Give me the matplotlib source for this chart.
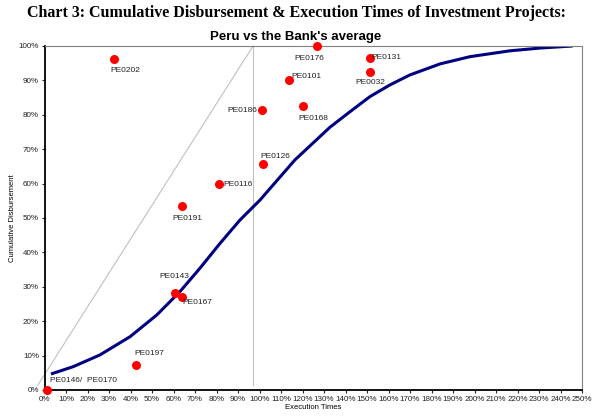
import numpy as np
import matplotlib
matplotlib.use('Agg')
import matplotlib.pyplot as plt
from matplotlib.ticker import FuncFormatter, MultipleLocator

# 项目数据 (执行时间 %, 累计支付 %)
projects = ['PE0202', 'PE0176', 'PE0131', 'PE0032', 'PE0101', 'PE0186', 'PE0168',
            'PE0126', 'PE0116', 'PE0191', 'PE0143', 'PE0167', 'PE0197', 'PE0146/  PE0170']
exec_time = [32.5, 126.6, 151.4, 151.4, 113.9, 101.2, 120.1,
             101.5, 81.0, 64.0, 60.6, 64.1, 42.6, 1.0]
disbursed = [96.1, 100.0, 96.6, 92.5, 90.1, 81.4, 82.6,
             65.7, 59.8, 53.4, 28.2, 27.0, 7.4, 0.0]

# 银行平均曲线
avg_x = [3.0, 13.4, 25.8, 39.8, 52.2, 63.0, 72.3, 81.6, 90.9, 100.2,
         116.5, 132.8, 142.1, 151.4, 160.7, 170.0, 184.0, 197.9, 216.5, 230.5, 245.7]
avg_y = [4.65, 6.8, 10.2, 15.5, 21.8, 28.6, 35.4, 42.6, 49.4, 55.2,
         66.9, 76.4, 80.9, 85.3, 88.7, 91.6, 94.8, 96.9, 98.6, 99.4, 100.0]

# 参考线
diag_x = [-3.0, 97.0]
diag_y = [1.5, 100.0]
vert_x = [97.0, 97.0]
vert_y = [1.5, 100.0]

# 标签偏移 (像素, 相对于点)
label_off = {
    'PE0202': (11, -11), 'PE0176': (-7, -12), 'PE0131': (16, 0), 'PE0032': (0, -11),
    'PE0101': (17, 4), 'PE0186': (-20, -1), 'PE0168': (11, -13), 'PE0126': (13, 7),
    'PE0116': (19, 0), 'PE0191': (5, -12), 'PE0143': (0, 16), 'PE0167': (15, -5),
    'PE0197': (13, 11), 'PE0146/  PE0170': (37, 9),
}

plt.rcParams['font.family'] = ['Liberation Sans', 'DejaVu Sans']

fig = plt.figure(figsize=(5.92, 4.17), dpi=100)
ax = fig.add_axes([44.5 / 592, 1 - 390 / 417, (582 - 44.5) / 592, (390 - 46) / 417])

ax.plot(diag_x, diag_y, color='#c0c0c0', lw=0.8, clip_on=False, zorder=1)
ax.plot(vert_x, vert_y, color='#c0c0c0', lw=0.8, zorder=1)
ax.plot(avg_x, avg_y, color='#000080', lw=2.2, solid_capstyle='butt', solid_joinstyle='round', zorder=2)
ax.scatter(exec_time, disbursed, s=42, color='#ff0000', zorder=3, clip_on=False, linewidths=0)

for name, x, y in zip(projects, exec_time, disbursed):
    dx, dy = label_off[name]
    ax.annotate(name, (x, y), xytext=(dx * 0.72, dy * 0.72), textcoords='offset points',
                ha='center', va='center', fontsize=6, color='#222222')

ax.set_xlim(0, 250)
ax.set_ylim(0, 100)
ax.xaxis.set_major_locator(MultipleLocator(10))
ax.yaxis.set_major_locator(MultipleLocator(10))
pct = FuncFormatter(lambda v, p: f'{v:.0f}%')
ax.xaxis.set_major_formatter(pct)
ax.yaxis.set_major_formatter(pct)
ax.tick_params(labelsize=5.8, length=2.5, width=0.8, pad=1.5, colors='#222222')

for s in ['left', 'bottom']:
    ax.spines[s].set_color('#000000')
    ax.spines[s].set_linewidth(1.3)
for s in ['top', 'right']:
    ax.spines[s].set_color('#808080')
    ax.spines[s].set_linewidth(0.8)

ax.set_xlabel('Execution Times', fontsize=5.5, labelpad=1)
ax.set_ylabel('Cumulative Disbursement', fontsize=5.5, labelpad=2)

fig.text(0.5, 1 - 13 / 417, 'Chart 3: Cumulative Disbursement & Execution Times of Investment Projects:',
         ha='center', va='center', fontsize=11.5, fontweight='bold', family='Liberation Serif')
fig.text(0.5, 1 - 37 / 417, "Peru vs the Bank's average",
         ha='center', va='center', fontsize=9.5, fontweight='bold')

fig.savefig('out.png', dpi=100)
